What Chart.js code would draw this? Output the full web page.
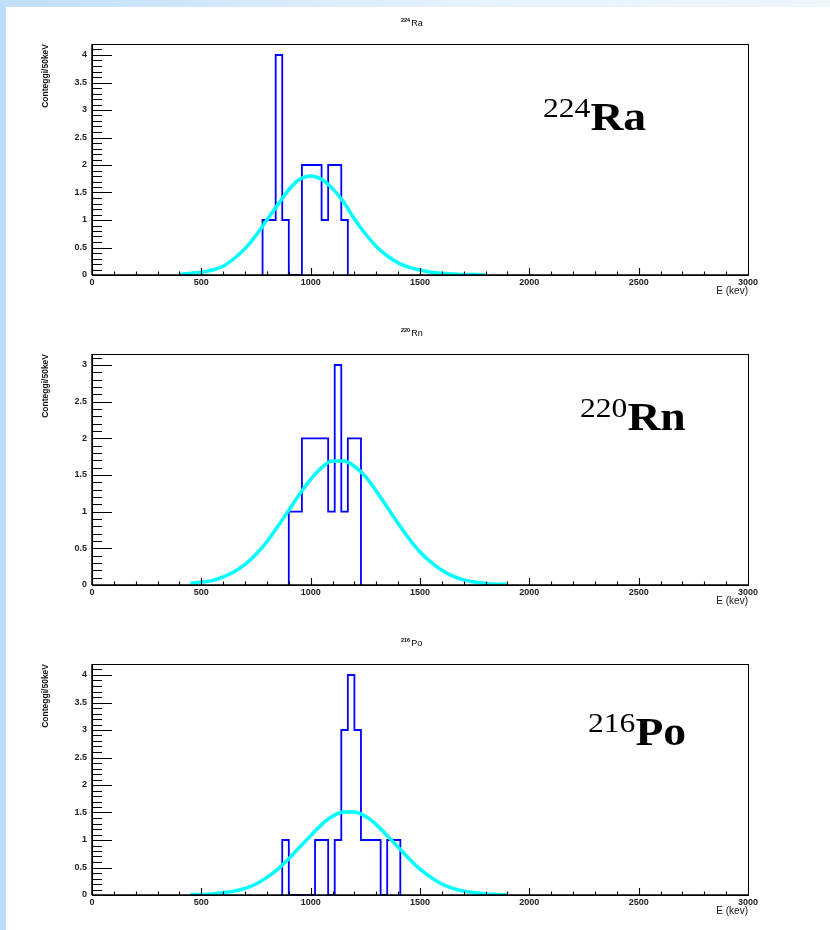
<!DOCTYPE html>
<html>
<head>
<meta charset="utf-8">
<script src="https://cdn.jsdelivr.net/npm/chart.js@4/dist/chart.umd.min.js"></script>
<style>
html,body{margin:0;padding:0;}
body{width:830px;height:930px;position:relative;overflow:hidden;background:#fff;}
#bgLeft{position:absolute;left:0;top:0;width:6px;height:930px;background:#bcdcf8;}
#bgTop{position:absolute;left:0;top:0;width:830px;height:7px;background:linear-gradient(to right,#c0dff9,#e6f2fc 55%,#eff7fd);}
.panel{position:absolute;left:0;width:830px;height:310px;}
.panel canvas{position:absolute;left:0;top:0;}
.htitle{position:absolute;font-family:"Liberation Sans",Arial,sans-serif;font-size:9px;line-height:10px;color:#000;white-space:nowrap;}
.htitle .iso{font-size:5.5px;vertical-align:4px;line-height:0;margin-right:1px;font-weight:bold;}
.big{position:absolute;font-family:"Liberation Serif","Times New Roman",serif;font-size:39px;line-height:39px;white-space:nowrap;transform:scaleX(1.17);transform-origin:0 0;color:#000;}
.big .iso{font-size:27px;font-weight:normal;vertical-align:13px;line-height:0;}
.big .el{font-weight:bold;}
</style>
</head>
<body>
<div id="bgLeft"></div>
<div id="bgTop"></div>

<div class="panel" style="top:0px"><canvas id="c1" width="830" height="310"></canvas></div>
<div class="panel" style="top:310px"><canvas id="c2" width="830" height="310"></canvas></div>
<div class="panel" style="top:620px"><canvas id="c3" width="830" height="310"></canvas></div>

<div class="htitle" style="left:401px;top:18px"><span class="iso">224</span>Ra</div>
<div class="htitle" style="left:401px;top:328px"><span class="iso">220</span>Rn</div>
<div class="htitle" style="left:401px;top:638px"><span class="iso">216</span>Po</div>

<div class="big" style="left:543px;top:97px"><span class="iso">224</span><span class="el">Ra</span></div>
<div class="big" style="left:580px;top:397px"><span class="iso">220</span><span class="el">Rn</span></div>
<div class="big" style="left:588px;top:712px"><span class="iso">216</span><span class="el">Po</span></div>

<script>
// ---- axis ticks ----
const xTicks = [0, 500, 1000, 1500, 2000, 2500, 3000];
const yTicks4 = [0, 0.5, 1, 1.5, 2, 2.5, 3, 3.5, 4];
const yTicks3 = [0, 0.5, 1, 1.5, 2, 2.5, 3];
const xTitle = 'E (kev)';
const yTitle = 'Conteggi/50keV';

// ---- 224Ra histogram (bin edges in keV, counts per bin) ----
const raBinEdges = [780, 810, 840, 870, 900, 930, 960, 990, 1020, 1050, 1080, 1110, 1140, 1170];
const raCounts   = [1, 1, 4, 1, 0, 0, 2, 2, 2, 1, 2, 2, 1];
// ---- 224Ra gaussian fit ----
const raFitE = [400, 450, 500, 550, 600, 650, 700, 750, 800, 850, 900, 950, 1000, 1050, 1100, 1150, 1200, 1250, 1300, 1350, 1400, 1450, 1500, 1550, 1600, 1650, 1700, 1750, 1800];
const raFitY = [0.01, 0.03, 0.05, 0.09, 0.16, 0.30, 0.48, 0.72, 1.00, 1.28, 1.55, 1.74, 1.80, 1.74, 1.57, 1.33, 1.02, 0.75, 0.52, 0.35, 0.22, 0.14, 0.09, 0.05, 0.03, 0.02, 0.01, 0.01, 0.00];

// ---- 220Rn histogram ----
const rnBinEdges = [900, 930, 960, 990, 1020, 1050, 1080, 1110, 1140, 1170, 1200, 1230];
const rnCounts   = [1, 1, 2, 2, 2, 2, 1, 3, 1, 2, 2];
// ---- 220Rn gaussian fit ----
const rnFitE = [450, 500, 550, 600, 650, 700, 750, 800, 850, 900, 950, 1000, 1050, 1100, 1150, 1200, 1250, 1300, 1350, 1400, 1450, 1500, 1550, 1600, 1650, 1700, 1750, 1800, 1850, 1900];
const rnFitY = [0.02, 0.04, 0.06, 0.11, 0.18, 0.28, 0.42, 0.59, 0.80, 1.02, 1.24, 1.44, 1.60, 1.69, 1.69, 1.62, 1.48, 1.28, 1.06, 0.84, 0.63, 0.45, 0.31, 0.20, 0.12, 0.07, 0.04, 0.02, 0.01, 0.01];

// ---- 216Po histogram ----
const poBinEdges = [870, 900, 930, 960, 990, 1020, 1050, 1080, 1110, 1140, 1170, 1200, 1230, 1260, 1290, 1320, 1350, 1380, 1410];
const poCounts   = [1, 0, 0, 0, 0, 1, 1, 0, 1, 3, 4, 3, 1, 1, 1, 0, 1, 1];
// ---- 216Po gaussian fit ----
const poFitE = [450, 500, 550, 600, 650, 700, 750, 800, 850, 900, 950, 1000, 1050, 1100, 1150, 1200, 1250, 1300, 1350, 1400, 1450, 1500, 1550, 1600, 1650, 1700, 1750, 1800, 1850, 1900];
const poFitY = [0.01, 0.01, 0.02, 0.04, 0.07, 0.12, 0.20, 0.32, 0.47, 0.66, 0.87, 1.08, 1.28, 1.43, 1.51, 1.51, 1.43, 1.28, 1.08, 0.87, 0.66, 0.47, 0.32, 0.20, 0.12, 0.07, 0.04, 0.02, 0.01, 0.00];

const FONT = '"Liberation Sans", Arial, sans-serif';

function histPoints(edges, counts) {
  const pts = [{x: edges[0], y: 0}];
  for (let i = 0; i < counts.length; i++) pts.push({x: edges[i], y: counts[i]});
  pts.push({x: edges[edges.length - 1], y: 0});
  return pts;
}
function fitPoints(es, ys) {
  return es.map((e, i) => ({x: e, y: ys[i]}));
}

const frameTicks = {
  id: 'frameTicks',
  afterDatasetsDraw(chart) {
    const {ctx, chartArea: a, scales: {x, y}} = chart;
    ctx.save();
    ctx.strokeStyle = '#000';
    ctx.lineWidth = 1;
    ctx.strokeRect(Math.round(a.left) + 0.5, Math.round(a.top) + 0.5, Math.round(a.right - a.left), Math.round(a.bottom - a.top));
    ctx.lineWidth = 1.5;
    ctx.beginPath();
    ctx.moveTo(a.left, a.bottom); ctx.lineTo(a.right, a.bottom);
    ctx.moveTo(a.left, a.bottom); ctx.lineTo(a.left, a.top);
    ctx.stroke();
    ctx.lineWidth = 1.1;
    ctx.beginPath();
    for (let k = 0; k * 100 <= x.max; k++) {
      const px = Math.round(x.getPixelForValue(k * 100)) + 0.5;
      const len = (k % 5 === 0) ? 7 : 3.5;
      ctx.moveTo(px, a.bottom); ctx.lineTo(px, a.bottom - len);
    }
    for (let k = 0; k * 0.1 <= y.max + 1e-9; k++) {
      const py = Math.round(y.getPixelForValue(k * 0.1)) + 0.5;
      const len = (k % 5 === 0) ? 20 : 10;
      ctx.moveTo(a.left, py); ctx.lineTo(a.left + len, py);
    }
    ctx.stroke();
    ctx.restore();
  }
};

function makeChart(id, edges, counts, fitE, fitY, yMax, yTicks) {
  new Chart(document.getElementById(id), {
    type: 'line',
    data: {
      datasets: [
        {
          label: 'fit',
          data: fitPoints(fitE, fitY),
          borderColor: '#00ffff',
          borderWidth: 3.5,
          pointRadius: 0,
          fill: false,
          cubicInterpolationMode: 'monotone',
          borderCapStyle: 'butt',
          order: 0
        },
        {
          label: 'hist',
          data: histPoints(edges, counts),
          borderColor: '#0000ff',
          borderWidth: 1.8,
          pointRadius: 0,
          fill: false,
          stepped: 'before',
          order: 1
        }
      ]
    },
    options: {
      responsive: false,
      animation: false,
      events: [],
      layout: {padding: {left: 0, top: 44, right: 82, bottom: 0}},
      plugins: {legend: {display: false}, tooltip: {enabled: false}, title: {display: false}},
      scales: {
        x: {
          type: 'linear', min: 0, max: 3000,
          afterBuildTicks: s => { s.ticks = xTicks.map(v => ({value: v})); },
          afterFit: s => { s.height = 35; },
          grid: {display: false, drawTicks: false},
          border: {display: false},
          ticks: {font: {family: FONT, size: 9, weight: 'bold'}, color: '#222', padding: 2, maxRotation: 0, autoSkip: false, callback: v => String(v)},
          title: {display: true, text: xTitle, align: 'end', color: '#111', font: {family: FONT, size: 10}, padding: {top: 0, bottom: 13}}
        },
        y: {
          type: 'linear', min: 0, max: yMax,
          afterBuildTicks: s => { s.ticks = yTicks.map(v => ({value: v})); },
          afterFit: s => { s.width = 92; },
          grid: {display: false, drawTicks: false},
          border: {display: false},
          ticks: {font: {family: FONT, size: 9, weight: 'bold'}, color: '#222', padding: 5, autoSkip: false, callback: v => String(v)},
          title: {display: true, text: yTitle, align: 'end', color: '#111', font: {family: FONT, size: 8.5, weight: 'bold'}, padding: {top: 41, bottom: 0}}
        }
      }
    },
    plugins: [frameTicks]
  });
}

makeChart('c1', raBinEdges, raCounts, raFitE, raFitY, 4.2, yTicks4);
makeChart('c2', rnBinEdges, rnCounts, rnFitE, rnFitY, 3.15, yTicks3);
makeChart('c3', poBinEdges, poCounts, poFitE, poFitY, 4.2, yTicks4);
</script>
</body>
</html>
